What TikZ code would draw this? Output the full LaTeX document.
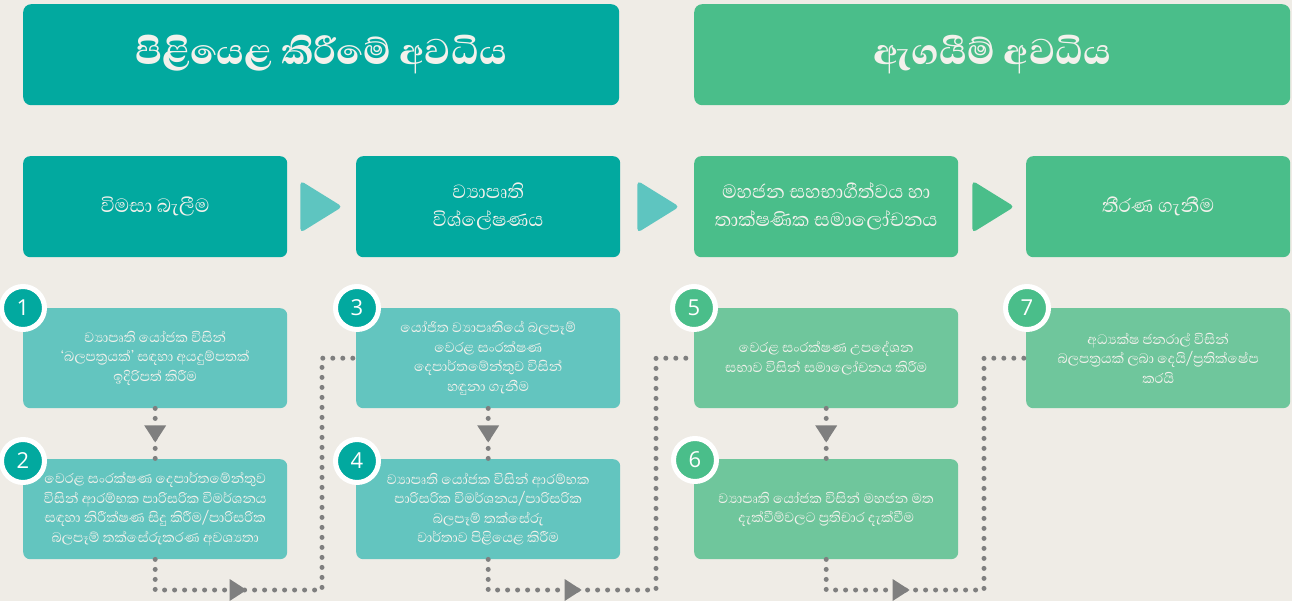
\documentclass[tikz,border=0pt]{standalone}
\usepackage{fontspec}
\setmainfont{Open Sans}
\newfontfamily\sinfont[Script=Sinhala]{Abhaya Libre}
\newfontfamily\sinbold[Script=Sinhala]{Abhaya Libre ExtraBold}
\usetikzlibrary{arrows.meta,decorations.markings,calc}
\definecolor{bg}{HTML}{EFECE6}
\definecolor{tealD}{HTML}{02A99F}
\definecolor{greenD}{HTML}{4ABE8A}
\definecolor{tealL}{HTML}{63C5BF}
\definecolor{greenL}{HTML}{6FC69C}
\definecolor{triT}{HTML}{5EC5C0}
\definecolor{dotc}{HTML}{7F7F7F}
\definecolor{txt}{HTML}{F3F1EC}
\tikzset{
  titlebox/.style={rounded corners=8pt, fill=#1, minimum width=596pt, minimum height=101pt, anchor=north west, inner sep=0pt, text=txt, font=\sinbold\fontsize{46}{50}\selectfont},
  phasebox/.style={rounded corners=7pt, fill=#1, minimum width=264pt, minimum height=101pt, anchor=north west, inner sep=0pt, text=txt, align=center, font=\sinfont\fontsize{24.5}{28}\selectfont},
  stepbox/.style={rounded corners=7pt, fill=#1, minimum width=264pt, minimum height=100pt, anchor=north west, inner sep=0pt, text=txt, align=center, font=\sinfont\fontsize{17.5}{19.5}\selectfont},
  numc/.style={circle, fill=#1, draw=white, line width=5pt, minimum size=43pt, inner sep=0pt, text=white, font=\fontsize{22}{22}\selectfont},
  dotline/.style={draw=dotc, line width=5pt, line cap=round, dash pattern=on 0pt off 10pt},
  tipat/.style={postaction={decorate}, decoration={markings, mark=at position #1 with {\arrow{Triangle[width=22pt,length=17pt,line width=0pt]}}}},
  chev/.style={fill=#1, rounded corners=4pt},
}
\begin{document}
\begin{tikzpicture}[x=1pt,y=-1pt]
\fill[bg] (0,0) rectangle (1292,601);
\useasboundingbox (0,0) rectangle (1292,601);

% titles
\node[titlebox=tealD] (t1) at (23,4) {\raisebox{-6pt}{පිළියෙළ කිරීමේ අවධිය}};
\node[titlebox=greenD] (t2) at (694,4) {\raisebox{-6pt}{ඇගයීම් අවධිය}};

% phases
\node[phasebox=tealD] (p1) at (23,156) {විමසා බැලීම};
\node[phasebox=tealD] (p2) at (356,156) {ව්^^^^200dයාපෘති\\විශ්ලේෂණය};
\node[phasebox=greenD] (p3) at (694,156) {මහජන සහභාගීත්වය හා\\තාක්ෂණික සමාලෝචනය};
\node[phasebox=greenD] (p4) at (1026,156) {තීරණ ගැනීම};

% chevrons
\fill[chev=triT] ($(p1.east)+(13,-26)$) -- ($(p1.east)+(55,0)$) -- ($(p1.east)+(13,26)$) -- cycle;
\fill[chev=triT] ($(p2.east)+(17,-26)$) -- ($(p2.east)+(59,0)$) -- ($(p2.east)+(17,26)$) -- cycle;
\fill[chev=greenD] ($(p3.east)+(14,-26)$) -- ($(p3.east)+(56,0)$) -- ($(p3.east)+(14,26)$) -- cycle;

% steps
\node[stepbox=tealL] (s1) at (23,308) {ව්^^^^200dයාපෘති යෝජක විසින්\\‘බලපත්^^^^200dරයක්’ සඳහා අයදුම්පතක්\\ඉදිරිපත් කිරීම};
\node[stepbox=tealL] (s2) at (23,459) {වෙරළ සංරක්ෂණ දෙපාර්තමේන්තුව\\විසින් ආරම්භක පාරිසරික විමර්ශනය\\සඳහා නිරීක්ෂණ සිදු කිරීම/පාරිසරික\\බලපෑම් තක්සේරුකරණ අවශ්^^^^200dයතා};
\node[stepbox=tealL] (s3) at (356,308) {යෝජිත ව්^^^^200dයාපෘතියේ බලපෑම්\\වෙරළ සංරක්ෂණ\\දෙපාර්තමේන්තුව විසින්\\හඳුනා ගැනීම};
\node[stepbox=tealL] (s4) at (356,459) {ව්^^^^200dයාපෘති යෝජක විසින් ආරම්භක\\පාරිසරික විමර්ශනය/පාරිසරික\\බලපෑම් තක්සේරු\\වාර්තාව පිළියෙළ කිරීම};
\node[stepbox=greenL] (s5) at (694,308) {වෙරළ සංරක්ෂණ උපදේශන\\සභාව විසින් සමාලෝචනය කිරීම};
\node[stepbox=greenL] (s6) at (694,459) {ව්^^^^200dයාපෘති යෝජක විසින් මහජන මත\\දැක්වීම්වලට ප්^^^^200dරතිචාර දැක්වීම};
\node[stepbox=greenL] (s7) at (1026,308) {අධ්^^^^200dයක්ෂ ජනරාල් විසින්\\බලපත්^^^^200dරයක් ලබා දෙයි/ප්^^^^200dරතික්ෂේප\\කරයි};

% connectors
\coordinate (k1) at (322,590);
\coordinate (k2) at (656,590);
\coordinate (k3) at (984,590);
\draw[dotline, tipat=34pt] (s1.south) -- (s2.north);
\draw[dotline, tipat=34pt] (s3.south) -- (s4.north);
\draw[dotline, tipat=34pt] (s5.south) -- (s6.north);
\draw[dotline, tipat=122pt] (s2.south) |- (k1) |- (s3.west);
\draw[dotline, tipat=124pt] (s4.south) |- (k2) |- (s5.west);
\draw[dotline, tipat=114pt] (s6.south) |- (k3) |- (s7.west);

% numbers
\node[numc=tealD] (n1) at (23,308) {1};
\node[numc=tealD] (n2) at (23,461) {2};
\node[numc=tealD] (n3) at (357,308) {3};
\node[numc=tealD] (n4) at (357,461) {4};
\node[numc=greenD] (n5) at (694,308) {5};
\node[numc=greenD] (n6) at (695,460) {6};
\node[numc=greenD] (n7) at (1027,308) {7};
\end{tikzpicture}
\end{document}
